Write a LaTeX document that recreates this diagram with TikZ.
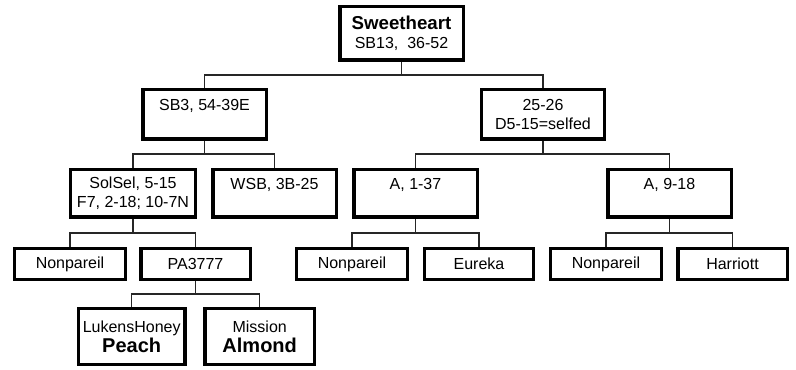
\documentclass[tikz,border=0pt]{standalone}
\usepackage{fontspec}
\setmainfont{Liberation Sans}
\begin{document}
\begin{tikzpicture}[x=0.75pt,y=-0.75pt,
  box/.style={draw=black,line width=2.6pt,inner sep=0pt,align=center,
    font=\fontsize{12}{14.25}\selectfont},
  conn/.style={draw=black!85,line width=0.8pt}]
\useasboundingbox (0,0) rectangle (796,370);
% level 0
\node[box,minimum width=92.6pt,minimum height=40.1pt] (root) at (401.5,33.5)
  {{\fontsize{14}{15}\selectfont\bfseries Sweetheart}\\SB13,\ \ 36-52};
% level 1
\node[box,minimum width=92.6pt,minimum height=37.1pt] (sb3) at (204.5,114.5) {SB3, 54-39E\\\mbox{}};
\node[box,minimum width=92.6pt,minimum height=37.1pt] (t2526) at (543,114.5) {25-26\\D5-15=selfed};
% level 2
\node[box,minimum width=93.4pt,minimum height=35.6pt] (solsel) at (133,193.5) {SolSel, 5-15\\F7, 2-18; 10-7N};
\node[box,minimum width=92.6pt,minimum height=35.6pt] (wsb) at (274.5,193.5) {WSB, 3B-25\\\mbox{}};
\node[box,minimum width=92.6pt,minimum height=35.6pt] (a137) at (415.5,193.5) {A, 1-37\\\mbox{}};
\node[box,minimum width=92.6pt,minimum height=35.6pt] (a918) at (669.5,193.5) {A, 9-18\\\mbox{}};
% level 3
\node[box,minimum width=82.9pt,minimum height=22.9pt] (np1) at (70,264) {Nonpareil};
\node[box,minimum width=82.1pt,minimum height=22.9pt] (pa) at (195.5,264) {PA3777};
\node[box,minimum width=82.9pt,minimum height=22.9pt] (np2) at (352,264) {Nonpareil};
\node[box,minimum width=81.4pt,minimum height=22.9pt] (eu) at (479,264) {Eureka};
\node[box,minimum width=82.9pt,minimum height=22.9pt] (np3) at (606,264) {Nonpareil};
\node[box,minimum width=82.1pt,minimum height=22.9pt] (ha) at (732.5,264) {Harriott};
% level 4
\node[box,minimum width=79.9pt,minimum height=41.6pt] (lh) at (131.7,336.5)
  {LukensHoney\\[1pt]{\fontsize{15}{16}\selectfont\bfseries Peach}};
\node[box,minimum width=82.1pt,minimum height=41.6pt] (mi) at (259.7,336.5)
  {Mission\\[1pt]{\fontsize{15}{16}\selectfont\bfseries Almond}};
% connectors
\coordinate (b0) at (401.5,75);
\coordinate (b1) at (204.5,154);
\coordinate (b2) at (543,154);
\coordinate (b3) at (133,233);
\coordinate (b4) at (415.5,233);
\coordinate (b5) at (669.5,233);
\coordinate (b6) at (195.5,294);
\draw[conn] (root.south) -- (b0);
\draw[conn] (sb3.north) |- (b0) -| (t2526.north);
\draw[conn] (sb3.south) -- (b1);
\draw[conn] (solsel.north) |- (b1) -| (wsb.north);
\draw[conn] (t2526.south) -- (b2);
\draw[conn] (a137.north) |- (b2) -| (a918.north);
\draw[conn] (solsel.south) -- (b3);
\draw[conn] (np1.north) |- (b3) -| (pa.north);
\draw[conn] (a137.south) -- (b4);
\draw[conn] (np2.north) |- (b4) -| (eu.north);
\draw[conn] (a918.south) -- (b5);
\draw[conn] (np3.north) |- (b5) -| (ha.north);
\draw[conn] (pa.south) -- (b6);
\draw[conn] (lh.north) |- (b6) -| (mi.north);
\end{tikzpicture}
\end{document}
